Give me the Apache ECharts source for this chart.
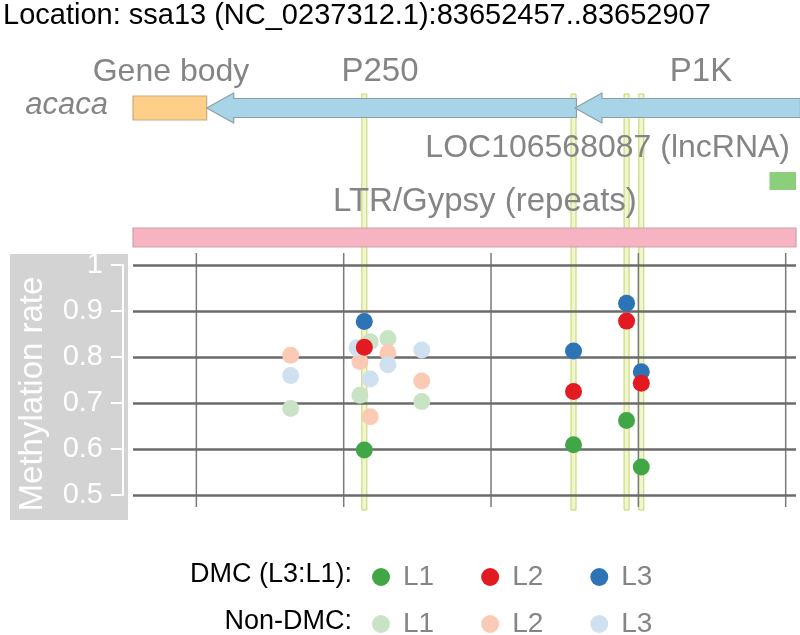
<!DOCTYPE html>
<html>
<head>
<meta charset="utf-8">
<script src="https://cdn.jsdelivr.net/npm/echarts@6/dist/echarts.min.js"></script>
<style>
  html, body { margin: 0; padding: 0; background: #fff; }
  #main { width: 800px; height: 635px; }
</style>
</head>
<body>
<div id="main"></div>
<script>
  // region shown on the x axis (bp)
  const regionStart = 83652457
  const regionEnd = 83652907
  const gridTicks = [83652500, 83652600, 83652700, 83652800, 83652900]
  const cpgSites = [83652614, 83652756, 83652792, 83652802]

  // methylation rate axis
  const yMin = 0.5
  const yMax = 1
  const yStep = 0.1

  // DMC sites (L3:L1)
  const dmcL1 = [[83652614, 0.598], [83652756, 0.609], [83652792, 0.662], [83652802, 0.561]]
  const dmcL2 = [[83652614, 0.821], [83652756, 0.725], [83652792, 0.878], [83652802, 0.743]]
  const dmcL3 = [[83652614, 0.877], [83652756, 0.813], [83652792, 0.917], [83652802, 0.768]]

  // non-DMC sites
  const nonL1 = [[83652564, 0.688], [83652611, 0.717], [83652618, 0.833], [83652630, 0.840], [83652653, 0.703]]
  const nonL2 = [[83652564, 0.804], [83652611, 0.790], [83652618, 0.670], [83652630, 0.809], [83652653, 0.748]]
  const nonL3 = [[83652564, 0.760], [83652609, 0.820], [83652618, 0.752], [83652630, 0.783], [83652653, 0.815]]

  // annotation tracks (bp ranges)
  const geneBody = [83652457, 83652507]
  const promoterP250 = [83652507, 83652758]
  const promoterP1K = [83652757, 83652910]
  const lncRNA = [83652889, 83652907]
  const ltrGypsy = [83652457, 83652907]

  const titleText = 'Location: ssa13 (NC_0237312.1):83652457..83652907'

  const font = '"Liberation Sans", Arial, Helvetica, sans-serif'
  const grey = '#858585'

  const tracks = [
    { range: ltrGypsy, row: 177.5, h: 19, fill: '#f7b3c1', stroke: '#c7a3aa' },
    { range: lncRNA, row: 121, h: 18, fill: '#8ccf7a', stroke: null },
    { range: geneBody, row: 48, h: 24, fill: '#fdcf88', stroke: '#c6ae84' },
    { range: promoterP250, row: 48, arrow: true, fill: '#a8d4e8', stroke: '#8e9ea6' },
    { range: promoterP1K, row: 48, arrow: true, fill: '#a8d4e8', stroke: '#8e9ea6' }
  ]

  function renderTrack(params, api) {
    const f = tracks[params.dataIndex]
    const p0 = api.coord([f.range[0], f.row])
    const p1 = api.coord([f.range[1], f.row])
    const style = { fill: f.fill, stroke: f.stroke || null, lineWidth: 1.2 }
    if (f.arrow) {
      const x0 = p0[0], x1 = p1[0], y = p0[1]
      const head = 27, hh = 15, sh = 9.5
      return {
        type: 'polygon',
        shape: { points: [[x0, y], [x0 + head, y - hh], [x0 + head, y - sh], [x1, y - sh],
          [x1, y + sh], [x0 + head, y + sh], [x0 + head, y + hh]] },
        style: style
      }
    }
    return {
      type: 'rect',
      shape: { x: p0[0], y: p0[1] - f.h / 2, width: p1[0] - p0[0], height: f.h },
      style: style
    }
  }

  function renderSite(params, api) {
    const top = api.coord([api.value(0), yMax])
    const bottom = api.coord([api.value(0), yMin])
    return {
      type: 'rect',
      shape: { x: top[0] - 2.5, y: top[1] - 171, width: 5, height: bottom[1] - top[1] + 186 },
      style: { fill: '#f2f6cf', stroke: '#c3d56b', lineWidth: 1 }
    }
  }

  function renderVGrid(params, api) {
    const top = api.coord([api.value(0), yMax])
    const bottom = api.coord([api.value(0), yMin])
    return {
      type: 'line',
      shape: { x1: top[0], y1: top[1] - 12, x2: bottom[0], y2: bottom[1] + 12 },
      style: { stroke: '#7a7a7a', lineWidth: 1.5 }
    }
  }

  function dots(name, data, color, z) {
    return {
      name: name,
      type: 'scatter',
      xAxisIndex: 0,
      yAxisIndex: 0,
      data: data,
      symbol: 'circle',
      symbolSize: 17,
      itemStyle: { color: color, opacity: 1 },
      z: z
    }
  }

  function legendRow(names, top) {
    return {
      data: names,
      left: 367,
      top: top,
      orient: 'horizontal',
      icon: 'circle',
      itemWidth: 34,
      itemHeight: 18,
      itemGap: 47,
      selectedMode: false,
      formatter: n => n.split(' ')[1],
      textStyle: { color: grey, fontSize: 28, fontFamily: font }
    }
  }

  function label(text, x, y, opts) {
    return {
      type: 'text',
      x: x,
      y: y,
      rotation: (opts && opts.rotation) || 0,
      z: 100,
      style: Object.assign({
        text: text,
        fill: grey,
        fontSize: 32,
        fontFamily: font,
        align: 'center',
        verticalAlign: 'middle'
      }, opts && opts.style)
    }
  }

  const chart = echarts.init(document.getElementById('main'), null, { renderer: 'canvas' })
  chart.setOption({
    animation: false,
    backgroundColor: '#fff',
    grid: [
      { left: 133, right: 4, top: 265, height: 230 },
      { left: 133, right: 4, top: 60, height: 200 }
    ],
    xAxis: [
      { gridIndex: 0, type: 'value', min: regionStart, max: regionEnd, show: false },
      { gridIndex: 1, type: 'value', min: regionStart, max: regionEnd, show: false }
    ],
    yAxis: [
      {
        gridIndex: 0,
        type: 'value',
        min: yMin,
        max: yMax,
        interval: yStep,
        offset: 10,
        z: 3,
        axisLine: { show: true, lineStyle: { color: '#fff', width: 2 } },
        axisTick: { show: true, length: 12, lineStyle: { color: '#fff', width: 2 } },
        axisLabel: {
          color: '#fff', fontSize: 29, fontFamily: font, margin: 20,
          formatter: v => String(+v.toFixed(1))
        },
        splitLine: { show: true, lineStyle: { color: '#6b6b6b', width: 2.5 } }
      },
      { gridIndex: 1, type: 'value', min: 0, max: 200, inverse: true, show: false }
    ],
    legend: [
      legendRow(['DMC L1', 'DMC L2', 'DMC L3'], 558),
      legendRow(['Non-DMC L1', 'Non-DMC L2', 'Non-DMC L3'], 605)
    ],
    graphic: [
      { type: 'rect', x: 10, y: 254, z: 0, shape: { width: 118, height: 266 }, style: { fill: '#d3d3d3' } },
      label(titleText, 3, 16, { style: { fill: '#000', fontSize: 29, align: 'left' } }),
      label('Gene body', 171, 72),
      label('P250', 380, 72, { style: { fontSize: 33 } }),
      label('P1K', 701, 72, { style: { fontSize: 33 } }),
      label('acaca', 108, 105, { style: { align: 'right', fontStyle: 'italic', fontSize: 31 } }),
      label('LOC106568087 (lncRNA)', 790, 148, { style: { align: 'right' } }),
      label('LTR/Gypsy (repeats)', 333, 202, { style: { align: 'left', fontSize: 33 } }),
      label('Methylation rate', 33, 394, { rotation: Math.PI / 2, style: { fill: '#fff', fontSize: 33 } }),
      label('DMC (L3:L1):', 352, 575, { style: { fill: '#000', fontSize: 27, align: 'right' } }),
      label('Non-DMC:', 352, 622, { style: { fill: '#000', fontSize: 27, align: 'right' } })
    ],
    series: [
      {
        type: 'custom',
        name: 'sites',
        xAxisIndex: 0,
        yAxisIndex: 0,
        clip: false,
        silent: true,
        z: 1,
        data: cpgSites.map(x => [x]),
        renderItem: renderSite
      },
      {
        type: 'custom',
        name: 'vgrid',
        xAxisIndex: 0,
        yAxisIndex: 0,
        clip: false,
        silent: true,
        z: 1,
        data: gridTicks.map(x => [x]),
        renderItem: renderVGrid
      },
      {
        type: 'custom',
        name: 'tracks',
        xAxisIndex: 1,
        yAxisIndex: 1,
        clip: false,
        silent: true,
        z: 3,
        data: tracks.map(t => [t.range[0], t.range[1]]),
        renderItem: renderTrack
      },
      dots('Non-DMC L1', nonL1, '#c9e4c5', 4),
      dots('Non-DMC L2', nonL2, '#fbcab5', 4),
      dots('Non-DMC L3', nonL3, '#cfe0f1', 4),
      dots('DMC L3', dmcL3, '#2d74b6', 5),
      dots('DMC L2', dmcL2, '#e41a22', 6),
      dots('DMC L1', dmcL1, '#41a746', 6)
    ]
  })
</script>
</body>
</html>
